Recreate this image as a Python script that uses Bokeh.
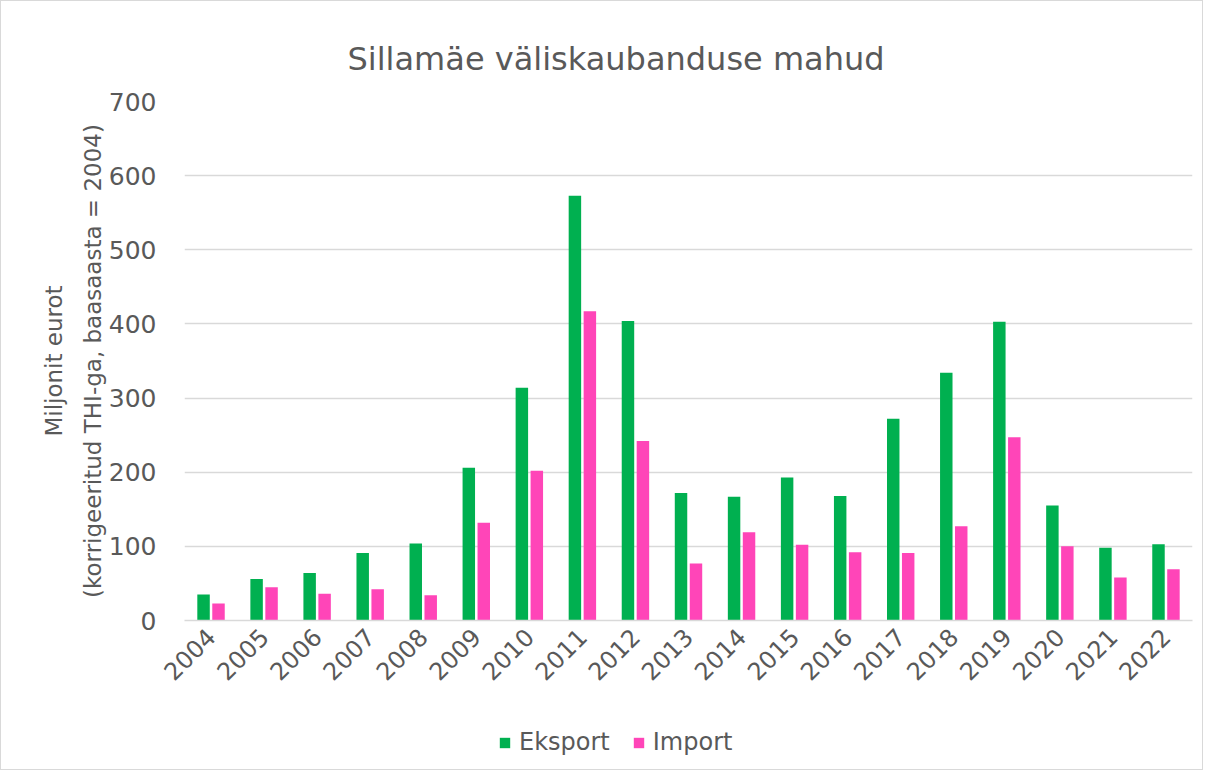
from bokeh.plotting import figure
from bokeh.models import ColumnDataSource, FactorRange, Legend, LegendItem, SingleIntervalTicker, Range1d
from bokeh.layouts import column
from bokeh.transform import dodge
from bokeh.embed import file_html
from bokeh.resources import INLINE
import math

years = [str(y) for y in range(2004, 2023)]
eksport = [35, 56, 64, 91, 104, 206, 314, 573, 404, 172, 167, 193, 168, 272, 334, 403, 155, 98, 103]
impor = [23, 45, 36, 42, 34, 132, 202, 417, 242, 77, 119, 102, 92, 91, 127, 247, 100, 58, 69]

title_text = "Sillamäe väliskaubanduse mahud"
y_label = "Miljonit eurot\n(korrigeeritud THI-ga, baasaasta = 2004)"
legend_labels = ["Eksport", "Import"]

GREEN = "#00B050"
PINK = "#FF45B8"
GREY_TXT = "#595959"
GRID = "#D9D9D9"
FONT = "DejaVu Sans"

src = ColumnDataSource(dict(year=years, eksport=eksport, impor=impor))

p = figure(x_range=FactorRange(*years), y_range=Range1d(0, 700),
           width=1201, height=700, output_backend="svg", toolbar_location=None,
           min_border_left=183, min_border_right=10, min_border_top=100, min_border_bottom=81)
p.x_range.range_padding = 0

r1 = p.vbar(x=dodge('year', -0.141, range=p.x_range), top='eksport', width=0.235, source=src,
            fill_color=GREEN, line_color=None)
r2 = p.vbar(x=dodge('year', 0.141, range=p.x_range), top='impor', width=0.235, source=src,
            fill_color=PINK, line_color=None)

p.title.text = title_text
p.title.align = "left"
p.title.offset = 163
p.title.text_font = FONT
p.title.text_font_size = "32px"
p.title.text_font_style = "normal"
p.title.text_color = GREY_TXT
p.title.standoff = 47

p.outline_line_color = None
p.background_fill_color = "white"
p.border_fill_color = "white"

p.xgrid.grid_line_color = None
p.ygrid.grid_line_color = GRID
p.ygrid.grid_line_width = 1.5

p.yaxis.ticker = SingleIntervalTicker(interval=100)
p.yaxis.axis_line_color = None
p.yaxis.major_tick_line_color = None
p.yaxis.minor_tick_line_color = None
p.yaxis.major_label_text_font = FONT
p.yaxis.major_label_text_font_size = "25px"
p.yaxis.major_label_text_color = GREY_TXT
p.yaxis.major_label_standoff = 22
p.yaxis.axis_label = y_label
p.yaxis.axis_label_text_font = FONT
p.yaxis.axis_label_text_font_size = "23px"
p.yaxis.axis_label_text_font_style = "normal"
p.yaxis.axis_label_text_color = GREY_TXT
p.yaxis.axis_label_text_line_height = 1.5
p.yaxis.axis_label_standoff = 0

p.xaxis.axis_line_color = GRID
p.xaxis.axis_line_width = 1.5
p.xaxis.major_tick_line_color = None
p.xaxis.minor_tick_line_color = None
p.xaxis.major_label_orientation = math.pi / 4
p.xaxis.major_label_text_font = FONT
p.xaxis.major_label_text_font_size = "24px"
p.xaxis.major_label_text_color = GREY_TXT
p.xaxis.major_label_standoff = 6

# legend strip below the chart
lf = figure(width=1201, height=68, output_backend="svg", toolbar_location=None,
            x_range=Range1d(0, 1), y_range=Range1d(0, 1),
            min_border_left=35, min_border_right=0, min_border_top=10, min_border_bottom=0)
lf.axis.visible = False
lf.grid.visible = False
lf.outline_line_color = None
lf.background_fill_color = "white"
lf.border_fill_color = "white"
hidden = ColumnDataSource(dict(x=[-10.0], top=[-10.0]))
d1 = lf.vbar(x='x', top='top', width=0.1, source=hidden, fill_color=GREEN, line_color=None)
d2 = lf.vbar(x='x', top='top', width=0.1, source=hidden, fill_color=PINK, line_color=None)

legend = Legend(items=[LegendItem(label=legend_labels[0], renderers=[d1]),
                       LegendItem(label=legend_labels[1], renderers=[d2])],
                orientation="horizontal", location=(314, 13))
legend.label_text_font = FONT
legend.label_text_font_size = "24px"
legend.label_text_color = GREY_TXT
legend.glyph_width = 13
legend.glyph_height = 13
legend.label_standoff = 8
legend.spacing = 22
legend.border_line_color = None
legend.background_fill_alpha = 0
legend.margin = 0
legend.padding = 4
lf.add_layout(legend, "center")

layout = column(p, lf, spacing=0)
layout.styles = {"border": "1px solid #D9D9D9"}

open("out.html", "w").write(file_html(layout, INLINE))
